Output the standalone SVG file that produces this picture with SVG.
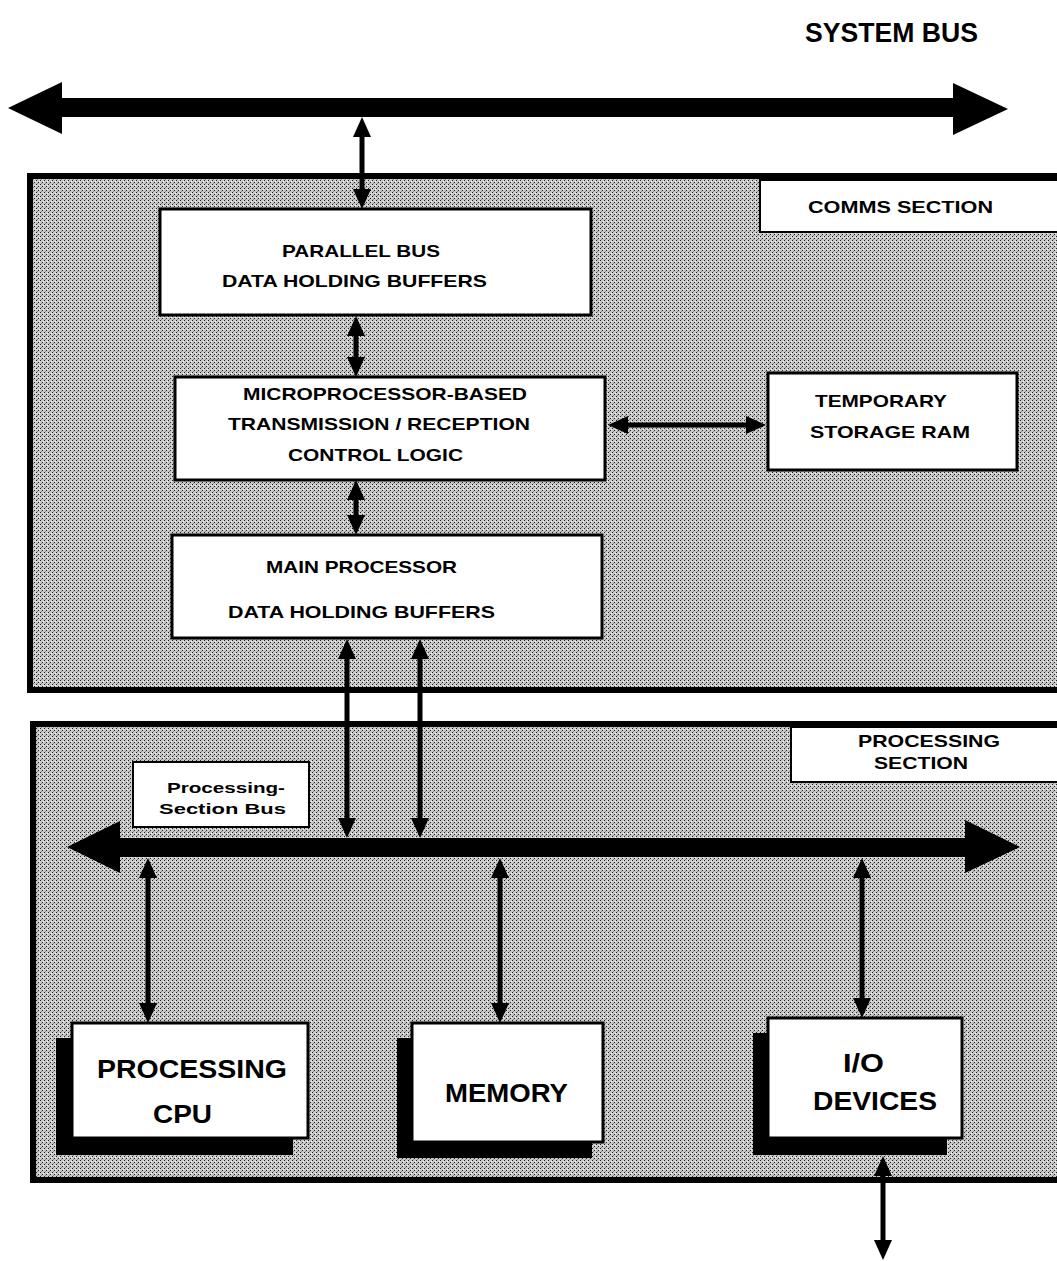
<svg xmlns="http://www.w3.org/2000/svg" width="1057" height="1261" viewBox="0 0 1057 1261">
  <defs>
    <!-- dithered grey screen used for the two section panels -->
    <pattern id="screen" width="4" height="4" patternUnits="userSpaceOnUse">
      <rect width="4" height="4" fill="#c9c9c9"/>
      <rect x="0" y="0" width="1" height="1" fill="#222"/>
      <rect x="2" y="2" width="1" height="1" fill="#222"/>
      <rect x="1" y="3" width="1" height="1" fill="#8a8a8a"/>
      <rect x="3" y="1" width="1" height="1" fill="#f2f2f2"/>
    </pattern>
    <!-- arrowhead for the thin data-path connectors -->
    <marker id="head" markerUnits="userSpaceOnUse" markerWidth="22" markerHeight="22"
            viewBox="0 -10 22 20" refX="0" refY="0" orient="auto-start-reverse" overflow="visible">
      <path d="M0,-9 L20,0 L0,9 Z" fill="#000"/>
    </marker>
  </defs>
  <style>
    .panel { fill: url(#screen); stroke: #000; stroke-width: 6; }
    .box { fill: #fff; stroke: #000; stroke-width: 3; }
    .tag { fill: #fff; stroke: #000; stroke-width: 2; }
    .shadow { fill: #000; }
    .link { stroke: #000; stroke-width: 5; fill: none; marker-start: url(#head); marker-end: url(#head); }
    .bus { fill: #000; }
    text { font-family: "Liberation Sans", Arial, Helvetica, sans-serif; font-weight: bold; fill: #000; }
    .t-small { font-size: 17px; }
    .t-tag { font-size: 15px; }
    .t-big { font-size: 26px; }
    .t-title { font-size: 28px; }
  </style>

  <rect width="1057" height="1261" fill="#fff"/>

  <!-- title -->
  <text class="t-title" x="805" y="42" textLength="173" lengthAdjust="spacingAndGlyphs">SYSTEM BUS</text>

  <!-- section panels -->
  <g id="comms-section">
    <rect class="panel" x="30" y="176" width="1030" height="514"/>
    <rect class="tag" x="760" y="180" width="300" height="52"/>
    <text class="t-small" x="808" y="213" textLength="185" lengthAdjust="spacingAndGlyphs">COMMS  SECTION</text>
  </g>
  <g id="processing-section">
    <rect class="panel" x="33" y="724" width="1027" height="456"/>
    <rect class="tag" x="791" y="727" width="270" height="55"/>
    <text class="t-small" x="858" y="747" textLength="142" lengthAdjust="spacingAndGlyphs">PROCESSING</text>
    <text class="t-small" x="874" y="769" textLength="94" lengthAdjust="spacingAndGlyphs">SECTION</text>
  </g>

  <!-- buses and connectors -->
  <g id="connectors">
    <!-- system bus -->
    <polygon class="bus" points="8,108 62,82 62,98 953,98 953,83 1008,109 953,135 953,117 62,117 62,134"/>
    <!-- processing-section bus -->
    <polygon class="bus" points="67,847 120,821 120,838 965,838 965,820 1020,847 965,873 965,857 120,857 120,873"/>

    <line class="link" x1="362" y1="137" x2="362" y2="189"/>
    <line class="link" x1="356" y1="336" x2="356" y2="357"/>
    <line class="link" x1="356" y1="500" x2="356" y2="515"/>
    <line class="link" x1="628" y1="425" x2="746" y2="425"/>
    <line class="link" x1="347" y1="659" x2="347" y2="818"/>
    <line class="link" x1="420" y1="659" x2="420" y2="818"/>
    <line class="link" x1="148" y1="878" x2="148" y2="1003"/>
    <line class="link" x1="500" y1="878" x2="500" y2="1003"/>
    <line class="link" x1="862" y1="878" x2="862" y2="998"/>
    <line class="link" x1="883" y1="1176" x2="883" y2="1240"/>
  </g>

  <!-- comms section nodes -->
  <g id="parallel-buffers">
    <rect class="box" x="160" y="209" width="431" height="106"/>
    <text class="t-small" x="282" y="257" textLength="158" lengthAdjust="spacingAndGlyphs">PARALLEL BUS</text>
    <text class="t-small" x="222" y="287" textLength="265" lengthAdjust="spacingAndGlyphs">DATA HOLDING  BUFFERS</text>
  </g>
  <g id="control-logic">
    <rect class="box" x="175" y="377" width="430" height="103"/>
    <text class="t-small" x="243" y="400" textLength="284" lengthAdjust="spacingAndGlyphs">MICROPROCESSOR-BASED</text>
    <text class="t-small" x="228" y="430" textLength="302" lengthAdjust="spacingAndGlyphs">TRANSMISSION / RECEPTION</text>
    <text class="t-small" x="288" y="461" textLength="175" lengthAdjust="spacingAndGlyphs">CONTROL LOGIC</text>
  </g>
  <g id="temporary-ram">
    <rect class="box" x="768" y="373" width="249" height="97"/>
    <text class="t-small" x="815" y="407" textLength="132" lengthAdjust="spacingAndGlyphs">TEMPORARY</text>
    <text class="t-small" x="810" y="438" textLength="160" lengthAdjust="spacingAndGlyphs">STORAGE  RAM</text>
  </g>
  <g id="main-buffers">
    <rect class="box" x="172" y="535" width="430" height="103"/>
    <text class="t-small" x="266" y="573" textLength="191" lengthAdjust="spacingAndGlyphs">MAIN PROCESSOR</text>
    <text class="t-small" x="228" y="618" textLength="267" lengthAdjust="spacingAndGlyphs">DATA HOLDING  BUFFERS</text>
  </g>

  <!-- processing section nodes -->
  <g id="bus-label">
    <rect class="tag" x="133" y="762" width="176" height="65"/>
    <text class="t-tag" x="167" y="793" textLength="118" lengthAdjust="spacingAndGlyphs">Processing-</text>
    <text class="t-tag" x="159" y="814" textLength="127" lengthAdjust="spacingAndGlyphs">Section  Bus</text>
  </g>
  <g id="cpu">
    <rect class="shadow" x="56" y="1038" width="237" height="117"/>
    <rect class="box" x="72" y="1023" width="236" height="115"/>
    <text class="t-big" x="97" y="1078" textLength="190" lengthAdjust="spacingAndGlyphs">PROCESSING</text>
    <text class="t-big" x="153" y="1123" textLength="59" lengthAdjust="spacingAndGlyphs">CPU</text>
  </g>
  <g id="memory">
    <rect class="shadow" x="397" y="1038" width="195" height="120"/>
    <rect class="box" x="412" y="1023" width="191" height="119"/>
    <text class="t-big" x="445" y="1102" textLength="123" lengthAdjust="spacingAndGlyphs">MEMORY</text>
  </g>
  <g id="io-devices">
    <rect class="shadow" x="753" y="1033" width="194" height="122"/>
    <rect class="box" x="768" y="1018" width="194" height="120"/>
    <text class="t-big" x="843" y="1072" textLength="41" lengthAdjust="spacingAndGlyphs">I/O</text>
    <text class="t-big" x="813" y="1110" textLength="124" lengthAdjust="spacingAndGlyphs">DEVICES</text>
  </g>
</svg>
